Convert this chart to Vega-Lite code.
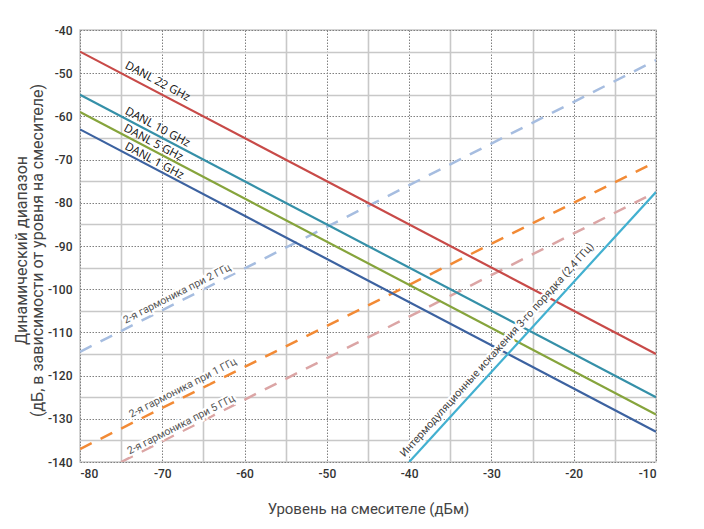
{
  "$schema": "https://vega.github.io/schema/vega-lite/v6.json",
  "width": 576,
  "height": 432,
  "autosize": {"type": "none"},
  "padding": {"left": 80, "top": 30, "right": 48, "bottom": 67},
  "background": "white",
  "config": {
    "view": {"stroke": "#c8c8c8", "strokeWidth": 1.5},
    "axis": {
      "domain": false,
      "ticks": false,
      "labelFont": "Roboto, sans-serif",
      "labelFontSize": 12,
      "labelColor": "#333333",
      "labelFontWeight": 500,
      "titleFont": "Roboto, sans-serif",
      "titleFontWeight": "normal",
      "titleColor": "#444444",
      "gridColor": {"condition": {"test": "datum.value % 10 === 0", "value": "#808080"}, "value": "#c8c8c8"},
      "gridDash": {"condition": {"test": "datum.value % 10 === 0", "value": [1.5, 1.5]}, "value": []},
      "gridWidth": {"condition": {"test": "datum.value % 10 === 0", "value": 1}, "value": 1.6},
      "gridOpacity": 1
    }
  },
  "datasets": {
    "lines": [
      {"series": "DANL 22 GHz", "kind": "solid", "x": -80, "y": -45},
      {"series": "DANL 22 GHz", "kind": "solid", "x": -10, "y": -115},
      {"series": "DANL 10 GHz", "kind": "solid", "x": -80, "y": -55},
      {"series": "DANL 10 GHz", "kind": "solid", "x": -10, "y": -125},
      {"series": "DANL 5 GHz", "kind": "solid", "x": -80, "y": -59},
      {"series": "DANL 5 GHz", "kind": "solid", "x": -10, "y": -129},
      {"series": "DANL 1 GHz", "kind": "solid", "x": -80, "y": -63},
      {"series": "DANL 1 GHz", "kind": "solid", "x": -10, "y": -133},
      {"series": "IMD3 2.4 GHz", "kind": "solid", "x": -40, "y": -140},
      {"series": "IMD3 2.4 GHz", "kind": "solid", "x": -10, "y": -77.5},
      {"series": "H2 2 GHz", "kind": "dashed", "x": -80, "y": -114.5},
      {"series": "H2 2 GHz", "kind": "dashed", "x": -10, "y": -47},
      {"series": "H2 1 GHz", "kind": "dashed", "x": -80, "y": -137},
      {"series": "H2 1 GHz", "kind": "dashed", "x": -10, "y": -70.5},
      {"series": "H2 5 GHz", "kind": "dashed", "x": -75, "y": -140},
      {"series": "H2 5 GHz", "kind": "dashed", "x": -10, "y": -77.5}
    ],
    "labels": [
      {"group": "danl", "text": "DANL 22 GHz", "x": -70.6, "y": -52.0},
      {"group": "danl", "text": "DANL 10 GHz", "x": -70.6, "y": -62.6},
      {"group": "danl", "text": "DANL 5 GHz", "x": -71.1, "y": -66.2},
      {"group": "danl", "text": "DANL 1 GHz", "x": -71.0, "y": -70.4},
      {"group": "harm", "text": "2-я гармоника при 2 ГГц", "x": -68.2, "y": -101.1},
      {"group": "harm", "text": "2-я гармоника при 1 ГГц", "x": -67.5, "y": -122.9},
      {"group": "harm", "text": "2-я гармоника при 5 ГГц", "x": -67.7, "y": -131.4},
      {"group": "imd", "text": "Интермодуляционные искажения 3-го порядка (2,4 ГГц)", "x": -29.3, "y": -114.1}
    ]
  },
  "encoding": {
    "x": {
      "field": "x", "type": "quantitative",
      "scale": {"domain": [-80, -10], "nice": false, "zero": false},
      "axis": {
        "values": [-80, -75, -70, -65, -60, -55, -50, -45, -40, -35, -30, -25, -20, -15, -10],
        "labelExpr": "datum.value % 10 === 0 ? '' + datum.value : ''",
        "labelPadding": 6,
        "title": "Уровень на смесителе (дБм)",
        "titleFontSize": 15,
        "titlePadding": 22
      }
    },
    "y": {
      "field": "y", "type": "quantitative",
      "scale": {"domain": [-140, -40], "nice": false, "zero": false},
      "axis": {
        "values": [-140, -135, -130, -125, -120, -115, -110, -105, -100, -95, -90, -85, -80, -75, -70, -65, -60, -55, -50, -45, -40],
        "labelExpr": "datum.value % 10 === 0 ? '' + datum.value : ''",
        "labelPadding": 8,
        "title": ["Динамический диапазон", "(дБ, в зависимости от уровня на смесителе)"],
        "titleFontSize": 16,
        "titleLineHeight": 16,
        "titleAngle": 270,
        "titleAlign": "center",
        "titleBaseline": "bottom",
        "titleX": -51,
        "titleY": 220
      }
    }
  },
  "layer": [
    {
      "data": {"name": "lines"},
      "transform": [{"filter": "datum.kind === 'dashed'"}],
      "mark": {"type": "line", "strokeWidth": 2.5, "strokeDash": [13, 10], "clip": true},
      "encoding": {
        "detail": {"field": "series"},
        "color": {
          "field": "series", "type": "nominal", "legend": null,
          "scale": {
            "domain": ["DANL 22 GHz", "DANL 10 GHz", "DANL 5 GHz", "DANL 1 GHz", "IMD3 2.4 GHz", "H2 2 GHz", "H2 1 GHz", "H2 5 GHz"],
            "range": ["#c84a48", "#3590a8", "#86a43c", "#3c62a0", "#42b0d0", "#a6bde0", "#f28a35", "#dba5a5"]
          }
        }
      }
    },
    {
      "data": {"name": "lines"},
      "transform": [{"filter": "datum.kind === 'solid'"}],
      "mark": {"type": "line", "strokeWidth": 2.2, "clip": true},
      "encoding": {
        "detail": {"field": "series"},
        "color": {"field": "series", "type": "nominal", "legend": null}
      }
    },
    {
      "data": {"name": "labels"},
      "transform": [{"filter": "datum.group === 'danl'"}],
      "mark": {"type": "text", "angle": 28, "align": "center", "baseline": "middle", "font": "Open Sans, sans-serif", "fontSize": 11.5, "color": "#111111"},
      "encoding": {"text": {"field": "text"}}
    },
    {
      "data": {"name": "labels"},
      "transform": [{"filter": "datum.group === 'harm'"}],
      "mark": {"type": "text", "angle": 333, "align": "center", "baseline": "middle", "font": "Roboto, sans-serif", "fontSize": 10.5, "fill": "white", "stroke": "white", "strokeWidth": 4},
      "encoding": {"text": {"field": "text"}}
    },
    {
      "data": {"name": "labels"},
      "transform": [{"filter": "datum.group === 'harm'"}],
      "mark": {"type": "text", "angle": 333, "align": "center", "baseline": "middle", "font": "Roboto, sans-serif", "fontSize": 10.5, "fill": "#555555"},
      "encoding": {"text": {"field": "text"}}
    },
    {
      "data": {"name": "labels"},
      "transform": [{"filter": "datum.group === 'imd'"}],
      "mark": {"type": "text", "angle": 312, "align": "center", "baseline": "middle", "font": "Roboto, sans-serif", "fontSize": 10.8, "fill": "white", "stroke": "white", "strokeWidth": 4},
      "encoding": {"text": {"field": "text"}}
    },
    {
      "data": {"name": "labels"},
      "transform": [{"filter": "datum.group === 'imd'"}],
      "mark": {"type": "text", "angle": 312, "align": "center", "baseline": "middle", "font": "Roboto, sans-serif", "fontSize": 10.8, "fill": "#444444"},
      "encoding": {"text": {"field": "text"}}
    }
  ]
}
